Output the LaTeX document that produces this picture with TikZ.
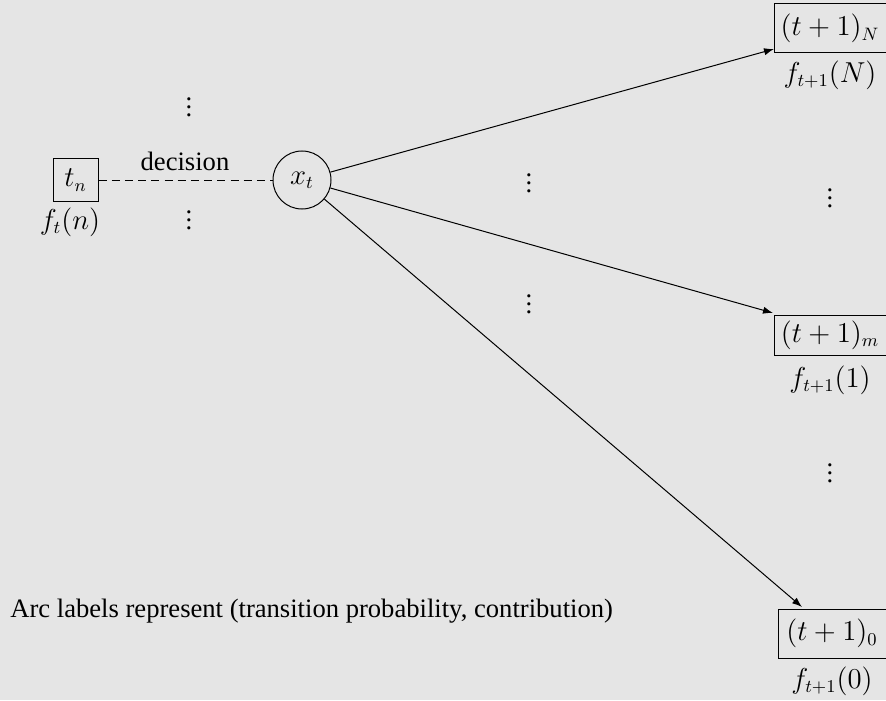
\documentclass[tikz,border=0pt]{standalone}
\usepackage{fontspec}
\setmainfont{Liberation Serif}
\usetikzlibrary{arrows.meta}
\definecolor{bg}{HTML}{E5E5E5}
\begin{document}
\begin{tikzpicture}[x=0.5pt,y=-0.5pt,
  every node/.style={font=\fontsize{13.3}{16}\selectfont},
  statebox/.style={draw, line width=0.5pt, inner sep=0pt},
  lab/.style={inner sep=0pt},
  circ/.style={draw, circle, line width=0.5pt, minimum size=29pt, inner sep=0pt},
  arc/.style={line width=0.5pt, -{Latex[length=5pt,width=3.6pt]}},
  dec/.style={line width=0.5pt, dash pattern=on 4pt off 2.6pt}]
\fill[bg] (0,0) rectangle (886,700);
\useasboundingbox (0,0) rectangle (886,700);
% left node
\node[statebox, minimum width=22.5pt, minimum height=21pt] (tn) at (75.5,180) {$t_n$};
\node[lab] (ftn) at (70,222) {$f_t(n)$};
% decision node
\node[circ] (xt) at (302,180) {$x_t$};
\draw[dec] (tn) -- (xt);
\node[lab] (dl) at (185,161) {decision};
% right boxes
\node[statebox, minimum width=56pt, minimum height=24.5pt] (bN) at (830,28.5) {$(t+1)_N$};
\node[lab] (fN) at (830,75) {$f_{t+1}(N)$};
\node[statebox, minimum width=56pt, minimum height=20pt] (bm) at (830,335) {$(t+1)_m$};
\node[lab] (fm) at (830,380) {$f_{t+1}(1)$};
\node[statebox, minimum width=54pt, minimum height=24.5pt] (b0) at (832,633.5) {$(t+1)_0$};
\node[lab] (f0) at (832,681) {$f_{t+1}(0)$};
% arrow targets
\coordinate (tN) at (774,49);
\coordinate (tm) at (773,313);
\coordinate (t0) at (802,607);
\draw[arc] (xt) -- (tN);
\draw[arc] (xt) -- (tm);
\draw[arc] (xt) -- (t0);
% dots
\node[lab] (d1) at (189,101) {$\vdots$};
\node[lab] (d2) at (189,214) {$\vdots$};
\node[lab] (d3) at (529,177) {$\vdots$};
\node[lab] (d4) at (529,298) {$\vdots$};
\node[lab] (d5) at (830,192) {$\vdots$};
\node[lab] (d6) at (830,467) {$\vdots$};
% caption
\node[lab, anchor=west] (cap) at (10,611) {Arc labels represent (transition probability, contribution)};
\end{tikzpicture}
\end{document}
